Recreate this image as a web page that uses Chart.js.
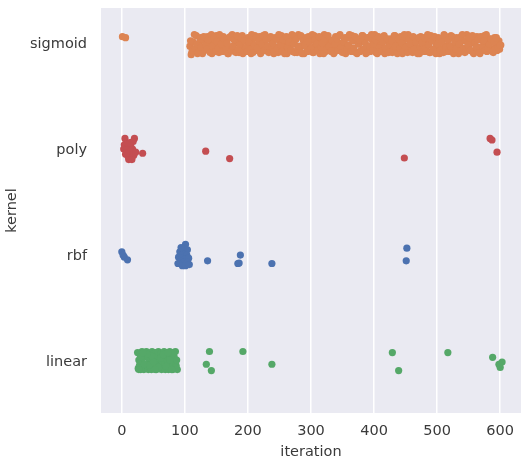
<!DOCTYPE html>
<html>
<head>
<meta charset="utf-8">
<script src="https://cdn.jsdelivr.net/npm/chart.js@4"></script>
<style>
  body { margin: 0; background: #fff; }
  #wrap { width: 525px; height: 458px; }
</style>
</head>
<body>
<div id="wrap"><canvas id="myChart" width="525" height="458"></canvas></div>
<script>
// categories, top to bottom
const kernels = ['sigmoid', 'poly', 'rbf', 'linear'];
const xTicks = [0, 100, 200, 300, 400, 500, 600];

// iteration values per kernel, jitter = vertical strip offset (positive = down)
const sigmoidIter = [1, 6,
  108, 110, 111, 113, 116, 118, 120, 122, 125, 127, 129, 131, 134, 136, 138, 141, 143, 145, 147, 150,
  152, 154, 157, 159, 161, 163, 166, 168, 170, 173, 175, 177, 179, 182, 184, 186, 189, 191, 193, 195,
  198, 200, 202, 205, 207, 209, 211, 214, 216, 218, 221, 223, 225, 227, 230, 232, 234, 237, 239, 241,
  243, 246, 248, 250, 253, 255, 257, 259, 262, 264, 266, 269, 271, 273, 275, 278, 280, 282, 285, 287,
  289, 291, 294, 296, 298, 301, 303, 305, 307, 310, 312, 314, 317, 319, 321, 323, 326, 328, 330, 333,
  335, 337, 339, 342, 344, 346, 349, 351, 353, 355, 358, 360, 362, 365, 367, 369, 371, 374, 376, 378,
  381, 383, 385, 387, 390, 392, 394, 397, 399, 401, 403, 406, 408, 410, 413, 415, 417, 419, 422, 424,
  426, 429, 431, 433, 435, 438, 440, 442, 445, 447, 449, 451, 454, 456, 458, 461, 463, 465, 467, 470,
  472, 474, 477, 479, 481, 483, 486, 488, 490, 493, 495, 497, 499, 502, 504, 506, 509, 511, 513, 515,
  518, 520, 522, 525, 527, 529, 531, 534, 536, 538, 541, 543, 545, 547, 550, 552, 554, 557, 559, 561,
  563, 566, 568, 570, 573, 575, 577, 579, 582, 584, 586, 589, 591, 593, 595, 598, 599, 601];
const sigmoidJitter = [-0.07, -0.06,
  0.02, 0.10, 0.08, -0.02, 0.05, -0.08, 0.09, 0.00, -0.06, 0.04, 0.07, -0.03, 0.01, -0.07, 0.06, -0.01, 0.09, -0.05, 0.03, -0.08,
  0.05, 0.08, -0.04, 0.01, -0.07, 0.06, -0.02, 0.09, -0.06, 0.03, -0.09, 0.04, 0.07, -0.01, -0.05, 0.08, 0.02, -0.08, 0.05, -0.03,
  0.07, -0.06, 0.00, 0.09, -0.04, 0.03, -0.08, 0.06, 0.01, -0.07, 0.08, -0.02, 0.05, -0.09, 0.02, 0.07, -0.05, 0.04, -0.01, 0.09,
  -0.06, 0.03, 0.08, -0.03, -0.08, 0.06, 0.01, -0.05, 0.09, -0.02, 0.04, -0.07, 0.07, 0.00, -0.04, 0.08, -0.09, 0.05, 0.02, -0.06,
  0.09, -0.01, 0.06, -0.07, 0.03, -0.04, 0.08, -0.08, 0.01, 0.05, -0.06, 0.09, -0.02, 0.04, -0.09, 0.07, 0.00, -0.05, 0.06, -0.03,
  0.02, 0.08, -0.07, 0.05, -0.01, -0.09, 0.07, 0.03, -0.04, 0.09, -0.06, 0.01, 0.06, -0.08, 0.04, -0.03, 0.08, -0.05, 0.00, 0.07,
  -0.08, 0.05, -0.02, 0.09, -0.06, 0.02, 0.07, -0.04, 0.04, -0.09, 0.08, -0.01, -0.06, 0.06, 0.03, -0.07, 0.09, -0.03, 0.05, 0.00,
  -0.05, 0.08, 0.01, -0.08, 0.06, -0.02, 0.04, -0.07, 0.09, -0.04, 0.02, 0.07, -0.09, 0.05, -0.01, 0.08, -0.06, 0.03, -0.03, 0.06,
  0.09, -0.07, 0.03, -0.02, 0.07, -0.05, 0.00, 0.08, -0.08, 0.05, -0.03, 0.06, 0.01, -0.06, 0.09, -0.04, 0.04, -0.09, 0.07, 0.02,
  -0.04, 0.06, -0.08, 0.03, 0.08, -0.01, -0.06, 0.09, 0.02, -0.07, 0.05, -0.03, 0.07, -0.09, 0.04, 0.00, -0.05, 0.08, -0.02, 0.06,
  -0.07, 0.03, 0.09, -0.04, 0.05, -0.08, 0.01, 0.07, -0.05, 0.04, -0.02, 0.08, -0.06, 0.02, 0.06, -0.03, 0.05, 0.01];
// the remaining sigmoid iterations in the dense band
const sigmoidIter2 = [109, 112, 115, 117, 119, 121, 124, 126, 128, 130, 133, 135, 137, 140, 142, 144, 146, 149, 151, 153,
  155, 158, 160, 162, 165, 167, 169, 172, 174, 176, 178, 181, 183, 185, 188, 190, 192, 194, 197, 199,
  201, 204, 206, 208, 210, 213, 215, 217, 220, 222, 224, 226, 229, 231, 233, 236, 238, 240, 242, 245,
  247, 249, 252, 254, 256, 258, 261, 263, 265, 268, 270, 272, 274, 277, 279, 281, 284, 286, 288, 290,
  293, 295, 297, 300, 302, 304, 306, 309, 311, 313, 316, 318, 320, 322, 325, 327, 329, 332, 334, 336,
  338, 341, 343, 345, 348, 350, 352, 354, 357, 359, 361, 364, 366, 368, 370, 373, 375, 377, 380, 382,
  384, 386, 389, 391, 393, 396, 398, 400, 402, 405, 407, 409, 412, 414, 416, 418, 421, 423, 425, 428,
  430, 432, 434, 437, 439, 441, 444, 446, 448, 450, 453, 455, 457, 460, 462, 464, 466, 469, 471, 473,
  476, 478, 480, 482, 485, 487, 489, 492, 494, 496, 498, 501, 503, 505, 508, 510, 512, 514, 517, 519,
  521, 524, 526, 528, 530, 533, 535, 537, 540, 542, 544, 546, 549, 551, 553, 556, 558, 560, 562, 565,
  567, 569, 572, 574, 576, 578, 581, 583, 585, 588, 590, 592, 594, 597, 600];
const sigmoidJitter2 = [-0.03, 0.06, -0.09, 0.04, 0.00, 0.08, -0.05, 0.03, 0.09, -0.07, 0.01, 0.05, -0.04, 0.08, -0.09, 0.02, -0.06, 0.07, -0.02, 0.04,
  -0.09, 0.00, 0.07, -0.05, 0.04, -0.01, 0.09, -0.07, 0.06, 0.02, -0.04, 0.08, -0.08, 0.05, 0.00, -0.06, 0.09, -0.03, 0.03, 0.07,
  -0.02, 0.05, -0.09, 0.08, 0.01, -0.06, 0.04, -0.03, 0.09, 0.00, -0.08, 0.06, -0.04, 0.02, 0.08, -0.07, 0.03, -0.01, 0.07, -0.05,
  0.04, -0.09, 0.01, 0.07, -0.04, 0.09, -0.07, 0.03, -0.02, 0.06, -0.09, 0.00, 0.08, -0.05, 0.05, 0.02, -0.08, 0.09, -0.03, 0.01,
  -0.06, 0.07, -0.02, 0.04, -0.09, 0.08, -0.04, 0.00, 0.06, -0.07, 0.03, -0.01, 0.09, -0.05, 0.05, -0.08, 0.02, 0.07, -0.03, 0.09,
  0.00, -0.05, 0.06, -0.08, 0.03, 0.08, -0.02, -0.06, 0.05, 0.01, -0.09, 0.07, -0.03, 0.04, -0.07, 0.09, 0.00, -0.04, 0.06, -0.08,
  0.05, -0.01, 0.08, -0.06, 0.02, -0.09, 0.06, 0.00, -0.04, 0.09, -0.07, 0.03, 0.07, -0.02, -0.08, 0.04, -0.05, 0.08, 0.01, -0.03,
  0.06, -0.08, 0.02, 0.09, -0.05, 0.04, -0.01, 0.07, -0.09, 0.03, 0.08, -0.04, 0.00, 0.06, -0.07, 0.05, -0.02, 0.09, -0.06, 0.03,
  -0.01, 0.07, -0.06, 0.04, -0.09, 0.01, 0.08, -0.03, 0.05, -0.07, 0.09, 0.00, -0.05, 0.06, -0.02, 0.08, -0.08, 0.03, -0.04, 0.07,
  0.02, -0.07, 0.09, -0.02, 0.05, -0.05, 0.00, 0.07, -0.09, 0.04, 0.08, -0.03, 0.01, -0.06, 0.06, -0.08, 0.09, -0.01, 0.03, -0.04,
  0.08, -0.07, 0.02, -0.03, 0.06, -0.09, 0.04, 0.00, -0.05, 0.07, -0.02, 0.05, -0.06, 0.03, 0.01];

const polyIter = [5, 20, 18, 4, 9, 14, 3, 8, 12, 17, 6, 10, 15, 19, 11, 16, 7, 13, 33, 22,
  133, 171, 448, 584, 587, 595];
const polyJitter = [-0.11, -0.11, -0.08, -0.05, -0.06, -0.04, -0.01, 0.00, 0.02, -0.01, 0.04, 0.06, 0.07, 0.05, 0.09, 0.09, 0.03, -0.07, 0.03, 0.02,
  0.01, 0.08, 0.075, -0.11, -0.095, 0.02];

const rbfIter = [0, 4, 9, 2,
  101, 98, 104, 92, 97, 103, 90, 95, 100, 106, 93, 98, 104, 89, 96, 101, 107, 94,
  136, 188, 184, 186, 238, 452, 451];
const rbfJitter = [-0.04, 0.01, 0.035, -0.01,
  -0.11, -0.07, -0.06, -0.04, -0.02, -0.01, 0.01, 0.02, 0.03, 0.02, 0.05, 0.06, 0.06, 0.07, 0.09, 0.09, 0.08, -0.08,
  0.045, -0.01, 0.07, 0.065, 0.07, -0.075, 0.045];

const linearIter = [25, 26, 27, 28, 29, 30, 31, 32, 33, 34, 35, 36, 38, 39, 40, 41, 42, 43, 44, 45,
  46, 47, 48, 49, 50, 51, 52, 53, 54, 55, 56, 57, 58, 59, 60, 61, 62, 63, 64, 65,
  66, 67, 68, 69, 70, 71, 72, 73, 74, 75, 76, 77, 78, 79, 80, 81, 82, 83, 84, 85, 86, 87, 88,
  30, 36, 44, 50, 58, 62, 70, 76, 82, 86, 27, 47, 53, 66, 73, 79, 40, 34,
  139, 134, 142, 192, 238, 429, 439, 517, 588, 603, 600, 598];
const linearJitter = [-0.09, 0.06, -0.02, 0.03, -0.07, 0.07, 0.00, -0.10, 0.05, -0.04, 0.07, -0.08, 0.06, -0.10, 0.03, -0.05, 0.07, 0.00, -0.08, 0.05,
  -0.03, 0.07, -0.10, 0.02, -0.06, 0.06, -0.01, -0.09, 0.04, 0.07, -0.05, 0.01, -0.10, 0.06, -0.03, 0.03, -0.08, 0.07, -0.01, -0.06,
  0.05, -0.10, 0.02, 0.07, -0.04, -0.08, 0.04, 0.00, 0.07, -0.06, -0.10, 0.03, 0.06, -0.03, -0.08, 0.07, 0.01, -0.05, 0.05, -0.10, 0.03, -0.02, 0.07,
  -0.05, 0.02, 0.03, 0.00, 0.05, -0.04, 0.04, -0.02, -0.09, 0.05, 0.07, -0.06, 0.07, -0.07, -0.09, 0.07, -0.08, -0.09,
  -0.10, 0.02, 0.08, -0.10, 0.02, -0.09, 0.08, -0.09, -0.045, 0.00, 0.05, 0.02];

function strip(iters, jitter, cat) {
  const idx = kernels.indexOf(cat);
  return iters.map((v, i) => ({ x: v, y: idx + (jitter[i] || 0) }));
}

const plotBg = {
  id: 'plotBg',
  beforeDraw(chart) {
    const { ctx, chartArea: a } = chart;
    ctx.save();
    ctx.fillStyle = '#EAEAF2';
    ctx.fillRect(a.left, a.top, a.right - a.left, a.bottom - a.top);
    ctx.restore();
  }
};

const font = { family: 'DejaVu Sans', size: 14.5 };
const textColor = '#3a3a3a';

const ctx = document.getElementById('myChart').getContext('2d');
new Chart(ctx, {
  type: 'scatter',
  data: {
    datasets: [
      { label: 'rbf', data: strip(rbfIter, rbfJitter, 'rbf'), backgroundColor: '#4C72B0' },
      { label: 'sigmoid', data: strip(sigmoidIter, sigmoidJitter, 'sigmoid').concat(strip(sigmoidIter2, sigmoidJitter2, 'sigmoid')), backgroundColor: '#DD8452' },
      { label: 'linear', data: strip(linearIter, linearJitter, 'linear'), backgroundColor: '#55A868' },
      { label: 'poly', data: strip(polyIter, polyJitter, 'poly'), backgroundColor: '#C44E52' }
    ].map(d => Object.assign(d, { pointRadius: 3.6, borderWidth: 0, pointHoverRadius: 3.6 }))
  },
  options: {
    responsive: false,
    animation: false,
    layout: { padding: { top: 8, right: 4, left: 0, bottom: 0 } },
    plugins: { legend: { display: false }, tooltip: { enabled: false } },
    scales: {
      x: {
        type: 'linear',
        min: -33,
        max: 633,
        afterBuildTicks: s => { s.ticks = xTicks.map(v => ({ value: v })); },
        afterFit: s => { s.height = 45; s.paddingLeft = 0; s.paddingRight = 0; },
        grid: { color: '#ffffff', lineWidth: 1.5, drawTicks: false },
        border: { display: false },
        ticks: { font: font, color: textColor, padding: 10 },
        title: { display: true, text: 'iteration', font: font, color: textColor, padding: { top: 0, bottom: -3 } }
      },
      y: {
        type: 'linear',
        reverse: true,
        min: -0.34,
        max: 3.48,
        afterBuildTicks: s => { s.ticks = kernels.map((k, i) => ({ value: i })); },
        afterFit: s => { s.width = 101; s.paddingTop = 0; s.paddingBottom = 0; },
        grid: { display: false, drawTicks: false },
        border: { display: false },
        ticks: { font: font, color: textColor, padding: 14, callback: v => kernels[v] },
        title: { display: true, text: 'kernel', font: font, color: textColor, padding: { top: 4, bottom: 0 } }
      }
    }
  },
  plugins: [plotBg]
});
</script>
</body>
</html>
